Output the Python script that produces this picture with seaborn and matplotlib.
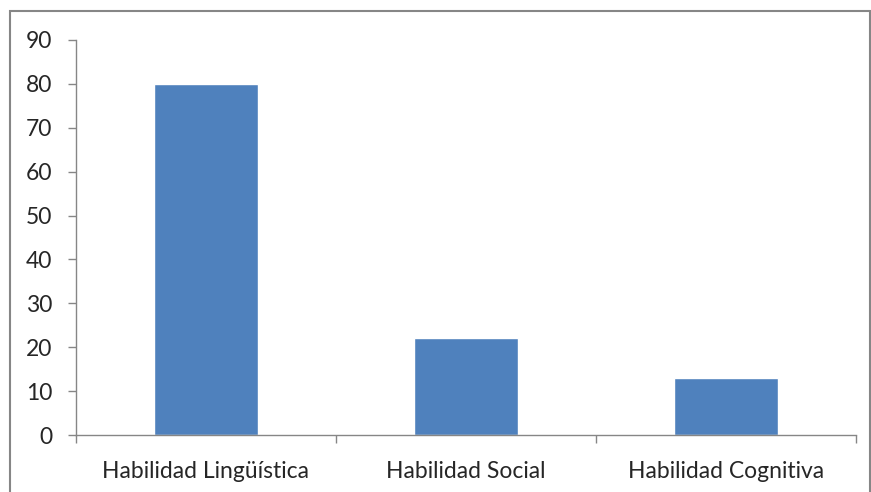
import matplotlib
matplotlib.use("Agg")
import matplotlib.pyplot as plt
import seaborn as sns
import pandas as pd
from matplotlib.patches import Rectangle

categories = ["Habilidad Lingüística", "Habilidad Social", "Habilidad Cognitiva"]
values = [80, 22, 13]
yticks = [0, 10, 20, 30, 40, 50, 60, 70, 80, 90]

sns.set_style("white")
plt.rcParams['font.family'] = ['Lato', 'DejaVu Sans']

df = pd.DataFrame({"cat": categories, "val": values})

fig = plt.figure(figsize=(8.71, 4.92), dpi=100)
ax = fig.add_axes([76/871, 1-435/492, (856-76)/871, (435-40)/492])
sns.barplot(data=df, x="cat", y="val", color="#4F81BD", saturation=1, width=0.4, ax=ax)

ax.set_xlim(-0.5, 2.5)
ax.set_ylim(0, 90)
ax.set_yticks(yticks)
ax.set_xlabel("")
ax.set_ylabel("")
gray = "#868686"
for s in ["top", "right"]:
    ax.spines[s].set_visible(False)
for s in ["left", "bottom"]:
    ax.spines[s].set_color(gray)
    ax.spines[s].set_linewidth(1.0)

ax.tick_params(axis="y", direction="out", length=6, color=gray, width=1, labelsize=16.5, pad=11, left=True)
ax.set_xticks([0, 1, 2])
ax.set_xticklabels(categories)
ax.set_xticks([-0.5, 0.5, 1.5, 2.5], minor=True)
ax.tick_params(axis="x", which="major", length=0, labelsize=16.5, pad=19)
ax.tick_params(axis="x", which="minor", direction="out", length=6, color=gray, width=1, bottom=True)

fig.patches.append(Rectangle((10/871, -0.1), (870-10)/871, 1.1 - 11/492, transform=fig.transFigure,
                             fill=False, edgecolor=gray, linewidth=1.5))

fig.savefig("out.png", dpi=100)
